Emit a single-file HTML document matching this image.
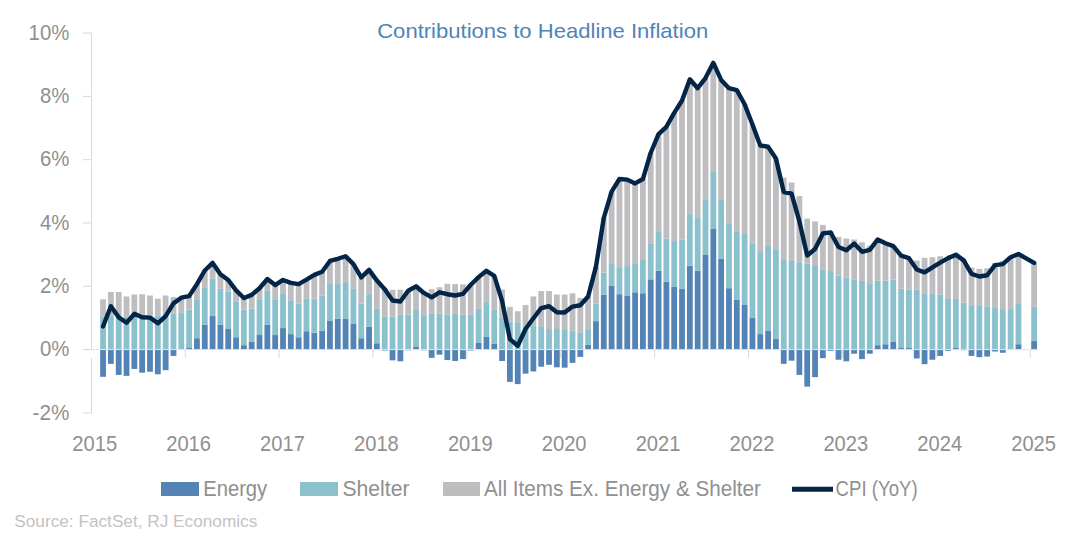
<!DOCTYPE html>
<html><head><meta charset="utf-8"><style>
html,body{margin:0;padding:0;background:#fff;}
body{width:1076px;height:536px;overflow:hidden;position:relative;}
svg{position:absolute;left:0;top:0;}
text{font-family:"Liberation Sans",sans-serif;}
</style></head><body>
<svg width="1076" height="536" viewBox="0 0 1076 536">
<rect x="0" y="0" width="1076" height="536" fill="#fff"/>
<text x="377.2" y="37.6" font-size="20.6" fill="#4f84b6" textLength="331" lengthAdjust="spacingAndGlyphs">Contributions to Headline Inflation</text>
<line x1="91.5" y1="33.10" x2="91.5" y2="349.60" stroke="#d9d9d9" stroke-width="1"/>
<line x1="91.5" y1="357.90" x2="91.5" y2="412.90" stroke="#d9d9d9" stroke-width="1"/>
<line x1="83" y1="412.90" x2="91.5" y2="412.90" stroke="#d9d9d9" stroke-width="1"/>
<line x1="83" y1="349.60" x2="91.5" y2="349.60" stroke="#d9d9d9" stroke-width="1"/>
<line x1="83" y1="286.30" x2="91.5" y2="286.30" stroke="#d9d9d9" stroke-width="1"/>
<line x1="83" y1="223.00" x2="91.5" y2="223.00" stroke="#d9d9d9" stroke-width="1"/>
<line x1="83" y1="159.70" x2="91.5" y2="159.70" stroke="#d9d9d9" stroke-width="1"/>
<line x1="83" y1="96.40" x2="91.5" y2="96.40" stroke="#d9d9d9" stroke-width="1"/>
<line x1="83" y1="33.10" x2="91.5" y2="33.10" stroke="#d9d9d9" stroke-width="1"/>
<line x1="185.21" y1="349.60" x2="185.21" y2="357.90" stroke="#d9d9d9" stroke-width="1"/>
<line x1="279.09" y1="349.60" x2="279.09" y2="357.90" stroke="#d9d9d9" stroke-width="1"/>
<line x1="372.98" y1="349.60" x2="372.98" y2="357.90" stroke="#d9d9d9" stroke-width="1"/>
<line x1="466.87" y1="349.60" x2="466.87" y2="357.90" stroke="#d9d9d9" stroke-width="1"/>
<line x1="560.76" y1="349.60" x2="560.76" y2="357.90" stroke="#d9d9d9" stroke-width="1"/>
<line x1="654.65" y1="349.60" x2="654.65" y2="357.90" stroke="#d9d9d9" stroke-width="1"/>
<line x1="748.53" y1="349.60" x2="748.53" y2="357.90" stroke="#d9d9d9" stroke-width="1"/>
<line x1="842.42" y1="349.60" x2="842.42" y2="357.90" stroke="#d9d9d9" stroke-width="1"/>
<line x1="936.31" y1="349.60" x2="936.31" y2="357.90" stroke="#d9d9d9" stroke-width="1"/>
<line x1="1030.20" y1="349.60" x2="1030.20" y2="357.90" stroke="#d9d9d9" stroke-width="1"/>
<g>
<rect x="100.15" y="349.60" width="5.8" height="27.22" fill="#5384b5"/>
<rect x="100.15" y="316.37" width="5.8" height="33.23" fill="#8ac1cd"/>
<rect x="100.15" y="299.28" width="5.8" height="17.09" fill="#bebec0"/>
<rect x="107.98" y="349.60" width="5.8" height="14.24" fill="#5384b5"/>
<rect x="107.98" y="316.05" width="5.8" height="33.55" fill="#8ac1cd"/>
<rect x="107.98" y="292.00" width="5.8" height="24.05" fill="#bebec0"/>
<rect x="115.80" y="349.60" width="5.8" height="25.32" fill="#5384b5"/>
<rect x="115.80" y="316.37" width="5.8" height="33.23" fill="#8ac1cd"/>
<rect x="115.80" y="292.00" width="5.8" height="24.37" fill="#bebec0"/>
<rect x="123.63" y="349.60" width="5.8" height="26.27" fill="#5384b5"/>
<rect x="123.63" y="316.37" width="5.8" height="33.23" fill="#8ac1cd"/>
<rect x="123.63" y="296.43" width="5.8" height="19.94" fill="#bebec0"/>
<rect x="131.45" y="349.60" width="5.8" height="19.31" fill="#5384b5"/>
<rect x="131.45" y="316.37" width="5.8" height="33.23" fill="#8ac1cd"/>
<rect x="131.45" y="294.53" width="5.8" height="21.84" fill="#bebec0"/>
<rect x="139.27" y="349.60" width="5.8" height="23.10" fill="#5384b5"/>
<rect x="139.27" y="316.37" width="5.8" height="33.23" fill="#8ac1cd"/>
<rect x="139.27" y="294.21" width="5.8" height="22.15" fill="#bebec0"/>
<rect x="147.10" y="349.60" width="5.8" height="22.15" fill="#5384b5"/>
<rect x="147.10" y="315.42" width="5.8" height="34.18" fill="#8ac1cd"/>
<rect x="147.10" y="295.48" width="5.8" height="19.94" fill="#bebec0"/>
<rect x="154.92" y="349.60" width="5.8" height="24.69" fill="#5384b5"/>
<rect x="154.92" y="315.42" width="5.8" height="34.18" fill="#8ac1cd"/>
<rect x="154.92" y="298.64" width="5.8" height="16.77" fill="#bebec0"/>
<rect x="162.75" y="349.60" width="5.8" height="20.57" fill="#5384b5"/>
<rect x="162.75" y="316.37" width="5.8" height="33.23" fill="#8ac1cd"/>
<rect x="162.75" y="295.48" width="5.8" height="20.89" fill="#bebec0"/>
<rect x="170.57" y="349.60" width="5.8" height="6.33" fill="#5384b5"/>
<rect x="170.57" y="313.84" width="5.8" height="35.76" fill="#8ac1cd"/>
<rect x="170.57" y="297.06" width="5.8" height="16.77" fill="#bebec0"/>
<rect x="178.39" y="312.25" width="5.8" height="37.35" fill="#8ac1cd"/>
<rect x="178.39" y="297.69" width="5.8" height="14.56" fill="#bebec0"/>
<rect x="186.22" y="348.02" width="5.8" height="1.58" fill="#5384b5"/>
<rect x="186.22" y="309.72" width="5.8" height="38.30" fill="#8ac1cd"/>
<rect x="186.22" y="296.11" width="5.8" height="13.61" fill="#bebec0"/>
<rect x="194.04" y="338.21" width="5.8" height="11.39" fill="#5384b5"/>
<rect x="194.04" y="299.28" width="5.8" height="38.93" fill="#8ac1cd"/>
<rect x="194.04" y="284.08" width="5.8" height="15.19" fill="#bebec0"/>
<rect x="201.87" y="324.91" width="5.8" height="24.69" fill="#5384b5"/>
<rect x="201.87" y="287.88" width="5.8" height="37.03" fill="#8ac1cd"/>
<rect x="201.87" y="270.48" width="5.8" height="17.41" fill="#bebec0"/>
<rect x="209.69" y="316.05" width="5.8" height="33.55" fill="#5384b5"/>
<rect x="209.69" y="278.39" width="5.8" height="37.66" fill="#8ac1cd"/>
<rect x="209.69" y="262.88" width="5.8" height="15.51" fill="#bebec0"/>
<rect x="217.51" y="324.91" width="5.8" height="24.69" fill="#5384b5"/>
<rect x="217.51" y="288.83" width="5.8" height="36.08" fill="#8ac1cd"/>
<rect x="217.51" y="274.27" width="5.8" height="14.56" fill="#bebec0"/>
<rect x="225.34" y="329.03" width="5.8" height="20.57" fill="#5384b5"/>
<rect x="225.34" y="291.68" width="5.8" height="37.35" fill="#8ac1cd"/>
<rect x="225.34" y="279.97" width="5.8" height="11.71" fill="#bebec0"/>
<rect x="233.16" y="337.26" width="5.8" height="12.34" fill="#5384b5"/>
<rect x="233.16" y="301.81" width="5.8" height="35.45" fill="#8ac1cd"/>
<rect x="233.16" y="290.41" width="5.8" height="11.39" fill="#bebec0"/>
<rect x="240.99" y="345.17" width="5.8" height="4.43" fill="#5384b5"/>
<rect x="240.99" y="309.72" width="5.8" height="35.45" fill="#8ac1cd"/>
<rect x="240.99" y="298.01" width="5.8" height="11.71" fill="#bebec0"/>
<rect x="248.81" y="342.00" width="5.8" height="7.60" fill="#5384b5"/>
<rect x="248.81" y="308.46" width="5.8" height="33.55" fill="#8ac1cd"/>
<rect x="248.81" y="294.85" width="5.8" height="13.61" fill="#bebec0"/>
<rect x="256.63" y="335.04" width="5.8" height="14.56" fill="#5384b5"/>
<rect x="256.63" y="299.91" width="5.8" height="35.13" fill="#8ac1cd"/>
<rect x="256.63" y="288.20" width="5.8" height="11.71" fill="#bebec0"/>
<rect x="264.46" y="324.91" width="5.8" height="24.69" fill="#5384b5"/>
<rect x="264.46" y="290.73" width="5.8" height="34.18" fill="#8ac1cd"/>
<rect x="264.46" y="279.02" width="5.8" height="11.71" fill="#bebec0"/>
<rect x="272.28" y="335.04" width="5.8" height="14.56" fill="#5384b5"/>
<rect x="272.28" y="299.91" width="5.8" height="35.13" fill="#8ac1cd"/>
<rect x="272.28" y="285.03" width="5.8" height="14.88" fill="#bebec0"/>
<rect x="280.11" y="328.08" width="5.8" height="21.52" fill="#5384b5"/>
<rect x="280.11" y="293.90" width="5.8" height="34.18" fill="#8ac1cd"/>
<rect x="280.11" y="279.97" width="5.8" height="13.93" fill="#bebec0"/>
<rect x="287.93" y="334.09" width="5.8" height="15.51" fill="#5384b5"/>
<rect x="287.93" y="300.23" width="5.8" height="33.87" fill="#8ac1cd"/>
<rect x="287.93" y="282.82" width="5.8" height="17.41" fill="#bebec0"/>
<rect x="295.75" y="337.26" width="5.8" height="12.34" fill="#5384b5"/>
<rect x="295.75" y="303.39" width="5.8" height="33.87" fill="#8ac1cd"/>
<rect x="295.75" y="284.08" width="5.8" height="19.31" fill="#bebec0"/>
<rect x="303.58" y="331.24" width="5.8" height="18.36" fill="#5384b5"/>
<rect x="303.58" y="298.64" width="5.8" height="32.60" fill="#8ac1cd"/>
<rect x="303.58" y="279.65" width="5.8" height="18.99" fill="#bebec0"/>
<rect x="311.40" y="332.83" width="5.8" height="16.77" fill="#5384b5"/>
<rect x="311.40" y="298.64" width="5.8" height="34.18" fill="#8ac1cd"/>
<rect x="311.40" y="274.91" width="5.8" height="23.74" fill="#bebec0"/>
<rect x="319.23" y="330.93" width="5.8" height="18.67" fill="#5384b5"/>
<rect x="319.23" y="295.80" width="5.8" height="35.13" fill="#8ac1cd"/>
<rect x="319.23" y="271.74" width="5.8" height="24.05" fill="#bebec0"/>
<rect x="327.05" y="320.48" width="5.8" height="29.12" fill="#5384b5"/>
<rect x="327.05" y="284.08" width="5.8" height="36.40" fill="#8ac1cd"/>
<rect x="327.05" y="260.98" width="5.8" height="23.10" fill="#bebec0"/>
<rect x="334.87" y="318.90" width="5.8" height="30.70" fill="#5384b5"/>
<rect x="334.87" y="284.08" width="5.8" height="34.81" fill="#8ac1cd"/>
<rect x="334.87" y="258.76" width="5.8" height="25.32" fill="#bebec0"/>
<rect x="342.70" y="318.90" width="5.8" height="30.70" fill="#5384b5"/>
<rect x="342.70" y="282.19" width="5.8" height="36.71" fill="#8ac1cd"/>
<rect x="342.70" y="256.23" width="5.8" height="25.95" fill="#bebec0"/>
<rect x="350.52" y="323.96" width="5.8" height="25.64" fill="#5384b5"/>
<rect x="350.52" y="288.83" width="5.8" height="35.13" fill="#8ac1cd"/>
<rect x="350.52" y="264.15" width="5.8" height="24.69" fill="#bebec0"/>
<rect x="358.35" y="338.21" width="5.8" height="11.39" fill="#5384b5"/>
<rect x="358.35" y="303.71" width="5.8" height="34.50" fill="#8ac1cd"/>
<rect x="358.35" y="277.44" width="5.8" height="26.27" fill="#bebec0"/>
<rect x="366.17" y="326.81" width="5.8" height="22.79" fill="#5384b5"/>
<rect x="366.17" y="294.21" width="5.8" height="32.60" fill="#8ac1cd"/>
<rect x="366.17" y="269.84" width="5.8" height="24.37" fill="#bebec0"/>
<rect x="373.99" y="343.27" width="5.8" height="6.33" fill="#5384b5"/>
<rect x="373.99" y="308.77" width="5.8" height="34.50" fill="#8ac1cd"/>
<rect x="373.99" y="280.60" width="5.8" height="28.17" fill="#bebec0"/>
<rect x="381.82" y="349.60" width="5.8" height="0.95" fill="#5384b5"/>
<rect x="381.82" y="316.37" width="5.8" height="33.23" fill="#8ac1cd"/>
<rect x="381.82" y="288.20" width="5.8" height="28.17" fill="#bebec0"/>
<rect x="389.64" y="349.60" width="5.8" height="10.76" fill="#5384b5"/>
<rect x="389.64" y="316.37" width="5.8" height="33.23" fill="#8ac1cd"/>
<rect x="389.64" y="289.78" width="5.8" height="26.59" fill="#bebec0"/>
<rect x="397.47" y="349.60" width="5.8" height="11.71" fill="#5384b5"/>
<rect x="397.47" y="314.79" width="5.8" height="34.81" fill="#8ac1cd"/>
<rect x="397.47" y="289.78" width="5.8" height="25.00" fill="#bebec0"/>
<rect x="405.29" y="349.60" width="5.8" height="0.63" fill="#5384b5"/>
<rect x="405.29" y="314.79" width="5.8" height="34.81" fill="#8ac1cd"/>
<rect x="405.29" y="290.10" width="5.8" height="24.69" fill="#bebec0"/>
<rect x="413.11" y="346.44" width="5.8" height="3.17" fill="#5384b5"/>
<rect x="413.11" y="310.04" width="5.8" height="36.40" fill="#8ac1cd"/>
<rect x="413.11" y="286.30" width="5.8" height="23.74" fill="#bebec0"/>
<rect x="420.94" y="349.60" width="5.8" height="0.63" fill="#5384b5"/>
<rect x="420.94" y="315.10" width="5.8" height="34.50" fill="#8ac1cd"/>
<rect x="420.94" y="292.31" width="5.8" height="22.79" fill="#bebec0"/>
<rect x="428.76" y="349.60" width="5.8" height="8.23" fill="#5384b5"/>
<rect x="428.76" y="313.20" width="5.8" height="36.40" fill="#8ac1cd"/>
<rect x="428.76" y="289.15" width="5.8" height="24.05" fill="#bebec0"/>
<rect x="436.59" y="349.60" width="5.8" height="5.06" fill="#5384b5"/>
<rect x="436.59" y="313.52" width="5.8" height="36.08" fill="#8ac1cd"/>
<rect x="436.59" y="287.25" width="5.8" height="26.27" fill="#bebec0"/>
<rect x="444.41" y="349.60" width="5.8" height="10.44" fill="#5384b5"/>
<rect x="444.41" y="314.79" width="5.8" height="34.81" fill="#8ac1cd"/>
<rect x="444.41" y="283.77" width="5.8" height="31.02" fill="#bebec0"/>
<rect x="452.23" y="349.60" width="5.8" height="11.39" fill="#5384b5"/>
<rect x="452.23" y="313.20" width="5.8" height="36.40" fill="#8ac1cd"/>
<rect x="452.23" y="284.08" width="5.8" height="29.12" fill="#bebec0"/>
<rect x="460.06" y="349.60" width="5.8" height="9.49" fill="#5384b5"/>
<rect x="460.06" y="314.79" width="5.8" height="34.81" fill="#8ac1cd"/>
<rect x="460.06" y="284.40" width="5.8" height="30.38" fill="#bebec0"/>
<rect x="467.88" y="349.60" width="5.8" height="0.95" fill="#5384b5"/>
<rect x="467.88" y="314.79" width="5.8" height="34.81" fill="#8ac1cd"/>
<rect x="467.88" y="283.77" width="5.8" height="31.02" fill="#bebec0"/>
<rect x="475.71" y="342.95" width="5.8" height="6.65" fill="#5384b5"/>
<rect x="475.71" y="308.77" width="5.8" height="34.18" fill="#8ac1cd"/>
<rect x="475.71" y="277.12" width="5.8" height="31.65" fill="#bebec0"/>
<rect x="483.53" y="336.94" width="5.8" height="12.66" fill="#5384b5"/>
<rect x="483.53" y="302.12" width="5.8" height="34.81" fill="#8ac1cd"/>
<rect x="483.53" y="270.79" width="5.8" height="31.33" fill="#bebec0"/>
<rect x="491.35" y="343.90" width="5.8" height="5.70" fill="#5384b5"/>
<rect x="491.35" y="310.04" width="5.8" height="33.87" fill="#8ac1cd"/>
<rect x="491.35" y="275.86" width="5.8" height="34.18" fill="#bebec0"/>
<rect x="499.18" y="349.60" width="5.8" height="11.39" fill="#5384b5"/>
<rect x="499.18" y="317.95" width="5.8" height="31.65" fill="#8ac1cd"/>
<rect x="499.18" y="289.47" width="5.8" height="28.48" fill="#bebec0"/>
<rect x="507.00" y="349.60" width="5.8" height="32.28" fill="#5384b5"/>
<rect x="507.00" y="321.75" width="5.8" height="27.85" fill="#8ac1cd"/>
<rect x="507.00" y="306.87" width="5.8" height="14.88" fill="#bebec0"/>
<rect x="514.83" y="349.60" width="5.8" height="34.50" fill="#5384b5"/>
<rect x="514.83" y="323.01" width="5.8" height="26.59" fill="#8ac1cd"/>
<rect x="514.83" y="311.30" width="5.8" height="11.71" fill="#bebec0"/>
<rect x="522.65" y="349.60" width="5.8" height="24.05" fill="#5384b5"/>
<rect x="522.65" y="325.23" width="5.8" height="24.37" fill="#8ac1cd"/>
<rect x="522.65" y="304.97" width="5.8" height="20.26" fill="#bebec0"/>
<rect x="530.47" y="349.60" width="5.8" height="21.84" fill="#5384b5"/>
<rect x="530.47" y="325.23" width="5.8" height="24.37" fill="#8ac1cd"/>
<rect x="530.47" y="296.43" width="5.8" height="28.80" fill="#bebec0"/>
<rect x="538.30" y="349.60" width="5.8" height="17.09" fill="#5384b5"/>
<rect x="538.30" y="326.18" width="5.8" height="23.42" fill="#8ac1cd"/>
<rect x="538.30" y="291.05" width="5.8" height="35.13" fill="#bebec0"/>
<rect x="546.12" y="349.60" width="5.8" height="15.19" fill="#5384b5"/>
<rect x="546.12" y="329.03" width="5.8" height="20.57" fill="#8ac1cd"/>
<rect x="546.12" y="291.05" width="5.8" height="37.98" fill="#bebec0"/>
<rect x="553.95" y="349.60" width="5.8" height="17.72" fill="#5384b5"/>
<rect x="553.95" y="329.03" width="5.8" height="20.57" fill="#8ac1cd"/>
<rect x="553.95" y="294.53" width="5.8" height="34.50" fill="#bebec0"/>
<rect x="561.77" y="349.60" width="5.8" height="18.04" fill="#5384b5"/>
<rect x="561.77" y="329.98" width="5.8" height="19.62" fill="#8ac1cd"/>
<rect x="561.77" y="294.53" width="5.8" height="35.45" fill="#bebec0"/>
<rect x="569.59" y="349.60" width="5.8" height="13.29" fill="#5384b5"/>
<rect x="569.59" y="330.61" width="5.8" height="18.99" fill="#8ac1cd"/>
<rect x="569.59" y="293.26" width="5.8" height="37.35" fill="#bebec0"/>
<rect x="577.42" y="349.60" width="5.8" height="7.28" fill="#5384b5"/>
<rect x="577.42" y="332.83" width="5.8" height="16.77" fill="#8ac1cd"/>
<rect x="577.42" y="298.01" width="5.8" height="34.81" fill="#bebec0"/>
<rect x="585.24" y="344.85" width="5.8" height="4.75" fill="#5384b5"/>
<rect x="585.24" y="329.98" width="5.8" height="14.88" fill="#8ac1cd"/>
<rect x="585.24" y="296.43" width="5.8" height="33.55" fill="#bebec0"/>
<rect x="593.07" y="321.12" width="5.8" height="28.48" fill="#5384b5"/>
<rect x="593.07" y="303.71" width="5.8" height="17.41" fill="#8ac1cd"/>
<rect x="593.07" y="266.68" width="5.8" height="37.03" fill="#bebec0"/>
<rect x="600.89" y="294.85" width="5.8" height="54.75" fill="#5384b5"/>
<rect x="600.89" y="272.69" width="5.8" height="22.16" fill="#8ac1cd"/>
<rect x="600.89" y="217.94" width="5.8" height="54.75" fill="#bebec0"/>
<rect x="608.71" y="285.98" width="5.8" height="63.62" fill="#5384b5"/>
<rect x="608.71" y="263.20" width="5.8" height="22.79" fill="#8ac1cd"/>
<rect x="608.71" y="191.67" width="5.8" height="71.53" fill="#bebec0"/>
<rect x="616.54" y="294.21" width="5.8" height="55.39" fill="#5384b5"/>
<rect x="616.54" y="267.94" width="5.8" height="26.27" fill="#8ac1cd"/>
<rect x="616.54" y="179.01" width="5.8" height="88.94" fill="#bebec0"/>
<rect x="624.36" y="295.48" width="5.8" height="54.12" fill="#5384b5"/>
<rect x="624.36" y="266.04" width="5.8" height="29.43" fill="#8ac1cd"/>
<rect x="624.36" y="179.64" width="5.8" height="86.40" fill="#bebec0"/>
<rect x="632.19" y="292.31" width="5.8" height="57.29" fill="#5384b5"/>
<rect x="632.19" y="263.20" width="5.8" height="29.12" fill="#8ac1cd"/>
<rect x="632.19" y="183.44" width="5.8" height="79.76" fill="#bebec0"/>
<rect x="640.01" y="293.26" width="5.8" height="56.34" fill="#5384b5"/>
<rect x="640.01" y="260.03" width="5.8" height="33.23" fill="#8ac1cd"/>
<rect x="640.01" y="179.01" width="5.8" height="81.02" fill="#bebec0"/>
<rect x="647.83" y="279.34" width="5.8" height="70.26" fill="#5384b5"/>
<rect x="647.83" y="243.89" width="5.8" height="35.45" fill="#8ac1cd"/>
<rect x="647.83" y="152.74" width="5.8" height="91.15" fill="#bebec0"/>
<rect x="655.66" y="270.79" width="5.8" height="78.81" fill="#5384b5"/>
<rect x="655.66" y="231.23" width="5.8" height="39.56" fill="#8ac1cd"/>
<rect x="655.66" y="134.06" width="5.8" height="97.17" fill="#bebec0"/>
<rect x="663.48" y="281.87" width="5.8" height="67.73" fill="#5384b5"/>
<rect x="663.48" y="238.51" width="5.8" height="43.36" fill="#8ac1cd"/>
<rect x="663.48" y="126.78" width="5.8" height="111.72" fill="#bebec0"/>
<rect x="671.31" y="286.93" width="5.8" height="62.67" fill="#5384b5"/>
<rect x="671.31" y="241.04" width="5.8" height="45.89" fill="#8ac1cd"/>
<rect x="671.31" y="112.86" width="5.8" height="128.18" fill="#bebec0"/>
<rect x="679.13" y="288.83" width="5.8" height="60.77" fill="#5384b5"/>
<rect x="679.13" y="239.77" width="5.8" height="49.06" fill="#8ac1cd"/>
<rect x="679.13" y="100.51" width="5.8" height="139.26" fill="#bebec0"/>
<rect x="686.95" y="265.73" width="5.8" height="83.87" fill="#5384b5"/>
<rect x="686.95" y="214.14" width="5.8" height="51.59" fill="#8ac1cd"/>
<rect x="686.95" y="79.31" width="5.8" height="134.83" fill="#bebec0"/>
<rect x="694.78" y="270.79" width="5.8" height="78.81" fill="#5384b5"/>
<rect x="694.78" y="217.94" width="5.8" height="52.86" fill="#8ac1cd"/>
<rect x="694.78" y="88.17" width="5.8" height="129.76" fill="#bebec0"/>
<rect x="702.60" y="254.97" width="5.8" height="94.63" fill="#5384b5"/>
<rect x="702.60" y="199.26" width="5.8" height="55.70" fill="#8ac1cd"/>
<rect x="702.60" y="78.04" width="5.8" height="121.22" fill="#bebec0"/>
<rect x="710.43" y="229.01" width="5.8" height="120.59" fill="#5384b5"/>
<rect x="710.43" y="172.04" width="5.8" height="56.97" fill="#8ac1cd"/>
<rect x="710.43" y="62.85" width="5.8" height="109.19" fill="#bebec0"/>
<rect x="718.25" y="258.76" width="5.8" height="90.84" fill="#5384b5"/>
<rect x="718.25" y="199.90" width="5.8" height="58.87" fill="#8ac1cd"/>
<rect x="718.25" y="79.94" width="5.8" height="119.95" fill="#bebec0"/>
<rect x="726.07" y="288.20" width="5.8" height="61.40" fill="#5384b5"/>
<rect x="726.07" y="223.95" width="5.8" height="64.25" fill="#8ac1cd"/>
<rect x="726.07" y="88.17" width="5.8" height="135.78" fill="#bebec0"/>
<rect x="733.90" y="299.91" width="5.8" height="49.69" fill="#5384b5"/>
<rect x="733.90" y="231.86" width="5.8" height="68.05" fill="#8ac1cd"/>
<rect x="733.90" y="90.07" width="5.8" height="141.79" fill="#bebec0"/>
<rect x="741.72" y="304.97" width="5.8" height="44.63" fill="#5384b5"/>
<rect x="741.72" y="233.13" width="5.8" height="71.85" fill="#8ac1cd"/>
<rect x="741.72" y="104.31" width="5.8" height="128.82" fill="#bebec0"/>
<rect x="749.55" y="317.95" width="5.8" height="31.65" fill="#5384b5"/>
<rect x="749.55" y="243.26" width="5.8" height="74.69" fill="#8ac1cd"/>
<rect x="749.55" y="124.57" width="5.8" height="118.69" fill="#bebec0"/>
<rect x="757.37" y="334.09" width="5.8" height="15.51" fill="#5384b5"/>
<rect x="757.37" y="252.12" width="5.8" height="81.97" fill="#8ac1cd"/>
<rect x="757.37" y="145.46" width="5.8" height="106.66" fill="#bebec0"/>
<rect x="765.19" y="330.93" width="5.8" height="18.67" fill="#5384b5"/>
<rect x="765.19" y="245.16" width="5.8" height="85.77" fill="#8ac1cd"/>
<rect x="765.19" y="146.72" width="5.8" height="98.43" fill="#bebec0"/>
<rect x="773.02" y="338.84" width="5.8" height="10.76" fill="#5384b5"/>
<rect x="773.02" y="249.90" width="5.8" height="88.94" fill="#8ac1cd"/>
<rect x="773.02" y="158.43" width="5.8" height="91.47" fill="#bebec0"/>
<rect x="780.84" y="349.60" width="5.8" height="14.24" fill="#5384b5"/>
<rect x="780.84" y="260.03" width="5.8" height="89.57" fill="#8ac1cd"/>
<rect x="780.84" y="177.74" width="5.8" height="82.29" fill="#bebec0"/>
<rect x="788.67" y="349.60" width="5.8" height="11.08" fill="#5384b5"/>
<rect x="788.67" y="260.98" width="5.8" height="88.62" fill="#8ac1cd"/>
<rect x="788.67" y="182.49" width="5.8" height="78.49" fill="#bebec0"/>
<rect x="796.49" y="349.60" width="5.8" height="25.32" fill="#5384b5"/>
<rect x="796.49" y="262.25" width="5.8" height="87.35" fill="#8ac1cd"/>
<rect x="796.49" y="196.10" width="5.8" height="66.15" fill="#bebec0"/>
<rect x="804.31" y="349.60" width="5.8" height="37.03" fill="#5384b5"/>
<rect x="804.31" y="263.83" width="5.8" height="85.77" fill="#8ac1cd"/>
<rect x="804.31" y="218.57" width="5.8" height="45.26" fill="#bebec0"/>
<rect x="812.14" y="349.60" width="5.8" height="27.54" fill="#5384b5"/>
<rect x="812.14" y="265.09" width="5.8" height="84.51" fill="#8ac1cd"/>
<rect x="812.14" y="221.42" width="5.8" height="43.68" fill="#bebec0"/>
<rect x="819.96" y="349.60" width="5.8" height="8.55" fill="#5384b5"/>
<rect x="819.96" y="269.84" width="5.8" height="79.76" fill="#8ac1cd"/>
<rect x="819.96" y="224.90" width="5.8" height="44.94" fill="#bebec0"/>
<rect x="827.79" y="349.60" width="5.8" height="1.27" fill="#5384b5"/>
<rect x="827.79" y="271.11" width="5.8" height="78.49" fill="#8ac1cd"/>
<rect x="827.79" y="231.23" width="5.8" height="39.88" fill="#bebec0"/>
<rect x="835.61" y="349.60" width="5.8" height="10.13" fill="#5384b5"/>
<rect x="835.61" y="275.54" width="5.8" height="74.06" fill="#8ac1cd"/>
<rect x="835.61" y="236.93" width="5.8" height="38.61" fill="#bebec0"/>
<rect x="843.43" y="349.60" width="5.8" height="11.71" fill="#5384b5"/>
<rect x="843.43" y="277.75" width="5.8" height="71.85" fill="#8ac1cd"/>
<rect x="843.43" y="238.51" width="5.8" height="39.25" fill="#bebec0"/>
<rect x="851.26" y="349.60" width="5.8" height="4.11" fill="#5384b5"/>
<rect x="851.26" y="279.34" width="5.8" height="70.26" fill="#8ac1cd"/>
<rect x="851.26" y="239.46" width="5.8" height="39.88" fill="#bebec0"/>
<rect x="859.08" y="349.60" width="5.8" height="9.49" fill="#5384b5"/>
<rect x="859.08" y="280.92" width="5.8" height="68.68" fill="#8ac1cd"/>
<rect x="859.08" y="242.31" width="5.8" height="38.61" fill="#bebec0"/>
<rect x="866.91" y="349.60" width="5.8" height="4.11" fill="#5384b5"/>
<rect x="866.91" y="284.08" width="5.8" height="65.52" fill="#8ac1cd"/>
<rect x="866.91" y="245.79" width="5.8" height="38.30" fill="#bebec0"/>
<rect x="874.73" y="345.17" width="5.8" height="4.43" fill="#5384b5"/>
<rect x="874.73" y="280.60" width="5.8" height="64.57" fill="#8ac1cd"/>
<rect x="874.73" y="239.46" width="5.8" height="41.14" fill="#bebec0"/>
<rect x="882.55" y="344.22" width="5.8" height="5.38" fill="#5384b5"/>
<rect x="882.55" y="280.60" width="5.8" height="63.62" fill="#8ac1cd"/>
<rect x="882.55" y="243.26" width="5.8" height="37.35" fill="#bebec0"/>
<rect x="890.38" y="342.00" width="5.8" height="7.60" fill="#5384b5"/>
<rect x="890.38" y="279.65" width="5.8" height="62.35" fill="#8ac1cd"/>
<rect x="890.38" y="246.10" width="5.8" height="33.55" fill="#bebec0"/>
<rect x="898.20" y="348.02" width="5.8" height="1.58" fill="#5384b5"/>
<rect x="898.20" y="288.83" width="5.8" height="59.19" fill="#8ac1cd"/>
<rect x="898.20" y="255.60" width="5.8" height="33.23" fill="#bebec0"/>
<rect x="906.03" y="348.02" width="5.8" height="1.58" fill="#5384b5"/>
<rect x="906.03" y="289.78" width="5.8" height="58.24" fill="#8ac1cd"/>
<rect x="906.03" y="258.13" width="5.8" height="31.65" fill="#bebec0"/>
<rect x="913.85" y="349.60" width="5.8" height="8.86" fill="#5384b5"/>
<rect x="913.85" y="289.78" width="5.8" height="59.82" fill="#8ac1cd"/>
<rect x="913.85" y="260.66" width="5.8" height="29.12" fill="#bebec0"/>
<rect x="921.67" y="349.60" width="5.8" height="14.56" fill="#5384b5"/>
<rect x="921.67" y="293.90" width="5.8" height="55.70" fill="#8ac1cd"/>
<rect x="921.67" y="257.82" width="5.8" height="36.08" fill="#bebec0"/>
<rect x="929.50" y="349.60" width="5.8" height="10.13" fill="#5384b5"/>
<rect x="929.50" y="293.26" width="5.8" height="56.34" fill="#8ac1cd"/>
<rect x="929.50" y="257.18" width="5.8" height="36.08" fill="#bebec0"/>
<rect x="937.32" y="349.60" width="5.8" height="6.33" fill="#5384b5"/>
<rect x="937.32" y="294.85" width="5.8" height="54.75" fill="#8ac1cd"/>
<rect x="937.32" y="256.23" width="5.8" height="38.61" fill="#bebec0"/>
<rect x="945.15" y="349.60" width="5.8" height="1.27" fill="#5384b5"/>
<rect x="945.15" y="298.96" width="5.8" height="50.64" fill="#8ac1cd"/>
<rect x="945.15" y="256.87" width="5.8" height="42.09" fill="#bebec0"/>
<rect x="952.97" y="348.02" width="5.8" height="1.58" fill="#5384b5"/>
<rect x="952.97" y="298.96" width="5.8" height="49.06" fill="#8ac1cd"/>
<rect x="952.97" y="254.65" width="5.8" height="44.31" fill="#bebec0"/>
<rect x="960.79" y="349.60" width="5.8" height="0.63" fill="#5384b5"/>
<rect x="960.79" y="302.44" width="5.8" height="47.16" fill="#8ac1cd"/>
<rect x="960.79" y="259.71" width="5.8" height="42.73" fill="#bebec0"/>
<rect x="968.62" y="349.60" width="5.8" height="6.33" fill="#5384b5"/>
<rect x="968.62" y="305.29" width="5.8" height="44.31" fill="#8ac1cd"/>
<rect x="968.62" y="267.63" width="5.8" height="37.66" fill="#bebec0"/>
<rect x="976.44" y="349.60" width="5.8" height="7.60" fill="#5384b5"/>
<rect x="976.44" y="305.29" width="5.8" height="44.31" fill="#8ac1cd"/>
<rect x="976.44" y="268.89" width="5.8" height="36.40" fill="#bebec0"/>
<rect x="984.27" y="349.60" width="5.8" height="6.96" fill="#5384b5"/>
<rect x="984.27" y="306.87" width="5.8" height="42.73" fill="#8ac1cd"/>
<rect x="984.27" y="268.26" width="5.8" height="38.61" fill="#bebec0"/>
<rect x="992.09" y="349.60" width="5.8" height="1.90" fill="#5384b5"/>
<rect x="992.09" y="307.19" width="5.8" height="42.41" fill="#8ac1cd"/>
<rect x="992.09" y="263.20" width="5.8" height="43.99" fill="#bebec0"/>
<rect x="999.91" y="349.60" width="5.8" height="3.17" fill="#5384b5"/>
<rect x="999.91" y="309.09" width="5.8" height="40.51" fill="#8ac1cd"/>
<rect x="999.91" y="260.98" width="5.8" height="48.11" fill="#bebec0"/>
<rect x="1007.74" y="309.09" width="5.8" height="40.51" fill="#8ac1cd"/>
<rect x="1007.74" y="257.18" width="5.8" height="51.91" fill="#bebec0"/>
<rect x="1015.56" y="344.22" width="5.8" height="5.38" fill="#5384b5"/>
<rect x="1015.56" y="304.02" width="5.8" height="40.20" fill="#8ac1cd"/>
<rect x="1015.56" y="254.02" width="5.8" height="50.01" fill="#bebec0"/>
<rect x="1031.21" y="341.05" width="5.8" height="8.55" fill="#5384b5"/>
<rect x="1031.21" y="306.87" width="5.8" height="34.18" fill="#8ac1cd"/>
<rect x="1031.21" y="262.88" width="5.8" height="43.99" fill="#bebec0"/>
</g>
<line x1="83" y1="349.60" x2="91" y2="349.60" stroke="#d9d9d9" stroke-width="1"/><line x1="91" y1="349.60" x2="1038.6" y2="349.60" stroke="#e4e4e4" stroke-width="1"/>
<polyline points="103.05,326.50 110.88,306.24 118.70,317.32 126.53,322.70 134.35,313.84 142.17,317.32 150.00,317.63 157.82,323.33 165.65,316.05 173.47,303.39 181.29,297.69 189.12,296.11 196.94,284.08 204.77,270.48 212.59,262.88 220.41,274.27 228.24,279.97 236.06,290.41 243.89,298.01 251.71,294.85 259.53,288.20 267.36,279.02 275.18,285.03 283.01,279.97 290.83,282.82 298.65,284.08 306.48,279.65 314.30,274.91 322.13,271.74 329.95,260.98 337.77,258.76 345.60,256.23 353.42,264.15 361.25,277.44 369.07,269.84 376.89,280.60 384.72,289.15 392.54,300.54 400.37,301.49 408.19,290.73 416.01,286.30 423.84,292.95 431.66,297.38 439.49,292.31 447.31,294.21 455.13,295.48 462.96,293.90 470.78,284.72 478.61,277.12 486.43,270.79 494.25,275.86 502.08,300.86 509.90,339.16 517.73,345.80 525.55,329.03 533.37,318.27 541.20,308.14 549.02,306.24 556.85,312.25 564.67,312.57 572.49,306.56 580.32,305.29 588.14,296.43 595.97,266.68 603.79,217.94 611.61,191.67 619.44,179.01 627.26,179.64 635.09,183.44 642.91,179.01 650.73,152.74 658.56,134.06 666.38,126.78 674.21,112.86 682.03,100.51 689.85,79.31 697.68,88.17 705.50,78.04 713.33,62.85 721.15,79.94 728.97,88.17 736.80,90.07 744.62,104.31 752.45,124.57 760.27,145.46 768.09,146.72 775.92,158.43 783.74,191.98 791.57,193.57 799.39,221.42 807.21,255.60 815.04,248.95 822.86,233.44 830.69,232.50 838.51,247.05 846.33,250.22 854.16,243.57 861.98,251.80 869.81,249.90 877.63,239.46 885.45,243.26 893.28,246.10 901.10,255.60 908.93,258.13 916.75,269.53 924.57,272.37 932.40,267.31 940.22,262.56 948.05,258.13 955.87,254.65 963.69,260.35 971.52,273.96 979.34,276.49 987.17,275.22 994.99,265.09 1002.81,264.15 1010.64,257.18 1018.46,254.02 1034.11,262.88" fill="none" stroke="#032548" stroke-width="4.4" stroke-linejoin="round" stroke-linecap="round"/>
<g fill="#909090">
<text x="32.50" y="419.50" font-size="21.7" textLength="36.8" lengthAdjust="spacingAndGlyphs">-2%</text>
<text x="39.90" y="356.20" font-size="21.7" textLength="29.4" lengthAdjust="spacingAndGlyphs">0%</text>
<text x="39.90" y="292.90" font-size="21.7" textLength="29.4" lengthAdjust="spacingAndGlyphs">2%</text>
<text x="39.90" y="229.60" font-size="21.7" textLength="29.4" lengthAdjust="spacingAndGlyphs">4%</text>
<text x="39.90" y="166.30" font-size="21.7" textLength="29.4" lengthAdjust="spacingAndGlyphs">6%</text>
<text x="39.90" y="103.00" font-size="21.7" textLength="29.4" lengthAdjust="spacingAndGlyphs">8%</text>
<text x="28.60" y="39.70" font-size="21.7" textLength="40.7" lengthAdjust="spacingAndGlyphs">10%</text>
<text x="72.33" y="450.8" font-size="21.3" textLength="44.8" lengthAdjust="spacingAndGlyphs">2015</text>
<text x="166.22" y="450.8" font-size="21.3" textLength="44.8" lengthAdjust="spacingAndGlyphs">2016</text>
<text x="260.11" y="450.8" font-size="21.3" textLength="44.8" lengthAdjust="spacingAndGlyphs">2017</text>
<text x="353.99" y="450.8" font-size="21.3" textLength="44.8" lengthAdjust="spacingAndGlyphs">2018</text>
<text x="447.88" y="450.8" font-size="21.3" textLength="44.8" lengthAdjust="spacingAndGlyphs">2019</text>
<text x="541.77" y="450.8" font-size="21.3" textLength="44.8" lengthAdjust="spacingAndGlyphs">2020</text>
<text x="635.66" y="450.8" font-size="21.3" textLength="44.8" lengthAdjust="spacingAndGlyphs">2021</text>
<text x="729.55" y="450.8" font-size="21.3" textLength="44.8" lengthAdjust="spacingAndGlyphs">2022</text>
<text x="823.43" y="450.8" font-size="21.3" textLength="44.8" lengthAdjust="spacingAndGlyphs">2023</text>
<text x="917.32" y="450.8" font-size="21.3" textLength="44.8" lengthAdjust="spacingAndGlyphs">2024</text>
<text x="1011.21" y="450.8" font-size="21.3" textLength="44.8" lengthAdjust="spacingAndGlyphs">2025</text>
</g>
<g font-size="21.4" fill="#909090">
<rect x="161" y="482" width="38" height="14" fill="#5384b5"/>
<text x="203.2" y="495.6" textLength="64" lengthAdjust="spacingAndGlyphs">Energy</text>
<rect x="300" y="482" width="38" height="14" fill="#8ac1cd"/>
<text x="342.5" y="495.6" textLength="67" lengthAdjust="spacingAndGlyphs">Shelter</text>
<rect x="443" y="482" width="37" height="14" fill="#bebec0"/>
<text x="484" y="495.6" textLength="277" lengthAdjust="spacingAndGlyphs">All Items Ex. Energy &amp; Shelter</text>
<line x1="792" y1="489.3" x2="833" y2="489.3" stroke="#032548" stroke-width="5"/>
<text x="835.6" y="495.6" textLength="82" lengthAdjust="spacingAndGlyphs">CPI (YoY)</text>
</g>
<text x="14.3" y="526.6" font-size="17.4" fill="#c3c3c3" textLength="243" lengthAdjust="spacingAndGlyphs">Source: FactSet, RJ Economics</text>
</svg>
</body></html>
